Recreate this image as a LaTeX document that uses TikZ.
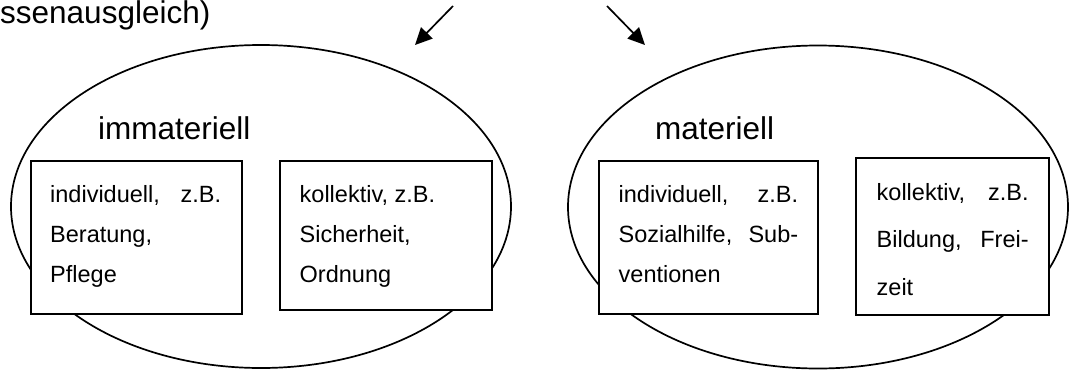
\documentclass[tikz,border=0pt]{standalone}
\usepackage{fontspec}
\setmainfont{Liberation Sans}
\usetikzlibrary{shapes.geometric,arrows.meta}
\begin{document}
\begin{tikzpicture}[x=1pt,y=-1pt,
  oval/.style={draw, ellipse, line width=1.7pt, inner sep=0pt, outer sep=0pt},
  box/.style={draw, fill=white, rectangle, line width=2pt, inner sep=0pt, outer sep=0pt, anchor=north west},
  big/.style={font=\fontsize{31.5}{36}\selectfont, inner sep=0pt, anchor=base west},
  txt/.style={font=\fontsize{23.5}{28}\selectfont, inner sep=0pt, anchor=base west},
  arr/.style={line width=1.7pt, -{Triangle[length=17pt,width=16pt]}}]
\useasboundingbox (0,0) rectangle (1069,370);
% top text and arrows
\node[big] (top) at (0,23) {ssenausgleich)};
\coordinate (p1) at (453,6);
\coordinate (q1) at (415,45);
\coordinate (p2) at (607,6);
\coordinate (q2) at (645,45);
\draw[arr] (p1) -- (q1);
\draw[arr] (p2) -- (q2);
% ellipses
\node[oval, minimum width=500pt, minimum height=323pt] (e1) at (261,206.5) {};
\node[oval, minimum width=500pt, minimum height=323pt] (e2) at (818,207) {};
\node[big] (l1) at (98,139) {immateriell};
\node[big] (l2) at (655,139) {materiell};
% boxes
\node[box, minimum width=211.5pt, minimum height=153pt] (b1) at (30.5,161) {};
\node[box, minimum width=212pt, minimum height=149pt] (b2) at (280,161) {};
\node[box, minimum width=219pt, minimum height=153pt] (b3) at (599,161) {};
\node[box, minimum width=193pt, minimum height=157pt] (b4) at (856,158) {};
% box texts
\node[txt] (t11) at (50,202) {\hbox to 171pt{individuell,\hfill z.B.}};
\node[txt] (t12) at (50,242) {Beratung,};
\node[txt] (t13) at (50,282.3) {Pflege};
\node[txt] (t21) at (299.5,202) {kollektiv, z.B.};
\node[txt] (t22) at (299.5,242) {Sicherheit,};
\node[txt] (t23) at (299.5,282.3) {Ordnung};
\node[txt] (t31) at (618.5,202) {\hbox to 179.5pt{individuell,\hfill z.B.}};
\node[txt] (t32) at (618.5,242) {\hbox to 179.5pt{Sozialhilfe,\hfill Sub-}};
\node[txt] (t33) at (618.5,282.3) {ventionen};
\node[txt] (t41) at (876.5,200) {\hbox to 152pt{kollektiv,\hfill z.B.}};
\node[txt] (t42) at (876.5,247) {\hbox to 152pt{Bildung,\hfill Frei-}};
\node[txt] (t43) at (876.5,295) {zeit};
\end{tikzpicture}
\end{document}
